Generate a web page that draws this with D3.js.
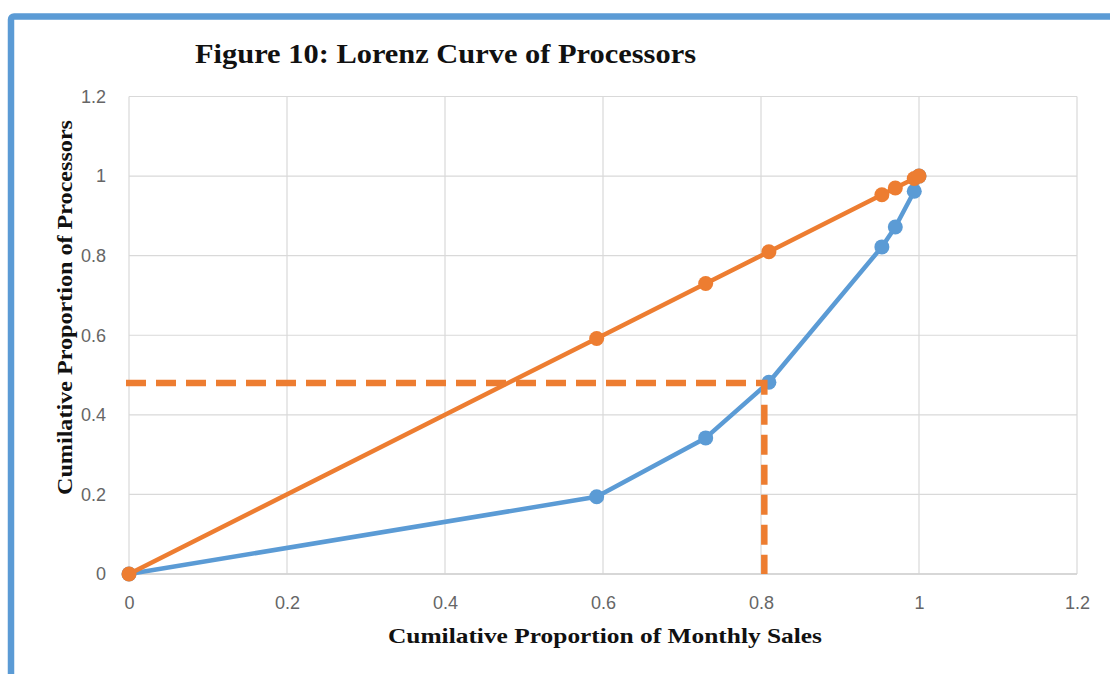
<!DOCTYPE html>
<html>
<head>
<meta charset="utf-8">
<script src="https://cdn.jsdelivr.net/npm/d3@7/dist/d3.min.js"></script>
<style>
  html, body { margin: 0; padding: 0; background: #fff; }
  svg { display: block; }
</style>
</head>
<body>
<svg id="chart" width="1110" height="674"></svg>
<script>
// Cumulative shares of monthly sales (x) and processors (y)
const salesShare = [0, 0.592, 0.730, 0.810, 0.953, 0.970, 0.994, 1];
const lorenzShare = [0, 0.194, 0.342, 0.482, 0.822, 0.872, 0.962, 1];
const equalityShare = [0, 0.592, 0.730, 0.810, 0.953, 0.970, 0.994, 1];
// Reference guide: 80% of sales ↔ 48% of processors
const guideX = [0, 0.808, 0.808];
const guideY = [0.48, 0.48, 0];
const xTicks = [0, 0.2, 0.4, 0.6, 0.8, 1, 1.2];
const yTicks = [0, 0.2, 0.4, 0.6, 0.8, 1, 1.2];

const svg = d3.select("#chart");
const x = d3.scaleLinear().domain([0, 1.2]).range([129, 1077]);
const y = d3.scaleLinear().domain([0, 1.2]).range([574, 96.5]);

const blue = "#5b9bd5", orange = "#ed7d31";
const serif = "'Liberation Serif', 'Times New Roman', serif";

// outer frame
svg.append("rect")
  .attr("x", 11).attr("y", 16.5)
  .attr("width", 1130).attr("height", 700)
  .attr("rx", 3)
  .attr("fill", "none").attr("stroke", blue).attr("stroke-width", 6.5);

// gridlines
const grid = svg.append("g");
grid.selectAll(".gx").data(xTicks).join("line")
  .attr("x1", d => x(d)).attr("x2", d => x(d))
  .attr("y1", y(1.2)).attr("y2", y(0))
  .attr("stroke", "#d9d9d9").attr("stroke-width", 1.2);
grid.selectAll(".gy").data(yTicks).join("line")
  .attr("y1", d => y(d)).attr("y2", d => y(d))
  .attr("x1", x(0)).attr("x2", x(1.2))
  .attr("stroke", "#d9d9d9").attr("stroke-width", 1.2);

// axes (tick labels only; gridlines are drawn separately)
const fmt = d => String(+d.toFixed(1));
const xAxis = svg.append("g").attr("transform", `translate(0,${y(0)})`)
  .call(d3.axisBottom(x).tickValues(xTicks).tickFormat(fmt).tickSize(0).tickPadding(22));
const yAxis = svg.append("g").attr("transform", `translate(${x(0)},0)`)
  .call(d3.axisLeft(y).tickValues(yTicks).tickFormat(fmt).tickSize(0).tickPadding(23));
[xAxis, yAxis].forEach(a => {
  a.select(".domain").remove();
  a.selectAll("text")
    .attr("fill", "#666")
    .style("font-family", "'Liberation Sans Narrow', 'Liberation Sans', sans-serif")
    .style("font-size", "18px");
});
svg.append("line")
  .attr("x1", x(0)).attr("x2", x(1.2)).attr("y1", y(0)).attr("y2", y(0))
  .attr("stroke", "#d0d0d0").attr("stroke-width", 1.5);

// series lines
const line = d3.line().x(d => x(d[0])).y(d => y(d[1]));
const lorenzPts = salesShare.map((s, i) => [s, lorenzShare[i]]);
const equalPts = salesShare.map((s, i) => [equalityShare[i], equalityShare[i]]);

svg.append("path").datum(lorenzPts).attr("d", line)
  .attr("fill", "none").attr("stroke", blue).attr("stroke-width", 4.5).attr("stroke-linejoin", "round");
svg.append("g").selectAll("circle").data(lorenzPts).join("circle")
  .attr("cx", d => x(d[0])).attr("cy", d => y(d[1])).attr("r", 7.5).attr("fill", blue);

svg.append("path").datum(equalPts).attr("d", line)
  .attr("fill", "none").attr("stroke", orange).attr("stroke-width", 4.5).attr("stroke-linejoin", "round");
svg.append("g").selectAll("circle").data(equalPts).join("circle")
  .attr("cx", d => x(d[0])).attr("cy", d => y(d[1])).attr("r", 7.5).attr("fill", orange);

// dashed guide
svg.append("path")
  .datum(guideX.map((gx, i) => [gx, guideY[i]]))
  .attr("d", d3.line().x(d => x(d[0])).y(d => y(d[1])))
  .attr("transform", "translate(-3,0)")
  .attr("fill", "none").attr("stroke", orange).attr("stroke-width", 6.5)
  .attr("stroke-dasharray", "20 10");

// titles
svg.append("text")
  .attr("x", 195).attr("y", 63)
  .attr("textLength", 501).attr("lengthAdjust", "spacingAndGlyphs")
  .style("font-family", serif)
  .style("font-weight", "bold").style("font-size", "27px").attr("fill", "#111")
  .text("Figure 10: Lorenz Curve of Processors");

svg.append("text")
  .attr("x", 388).attr("y", 643)
  .attr("textLength", 434).attr("lengthAdjust", "spacingAndGlyphs")
  .style("font-family", serif)
  .style("font-weight", "bold").style("font-size", "22px").attr("fill", "#111")
  .text("Cumilative Proportion of Monthly Sales");

svg.append("text")
  .attr("transform", "translate(72,495) rotate(-90)")
  .attr("textLength", 375).attr("lengthAdjust", "spacingAndGlyphs")
  .style("font-family", serif)
  .style("font-weight", "bold").style("font-size", "22px").attr("fill", "#111")
  .text("Cumilative Proportion of Processors");
</script>
</body>
</html>
